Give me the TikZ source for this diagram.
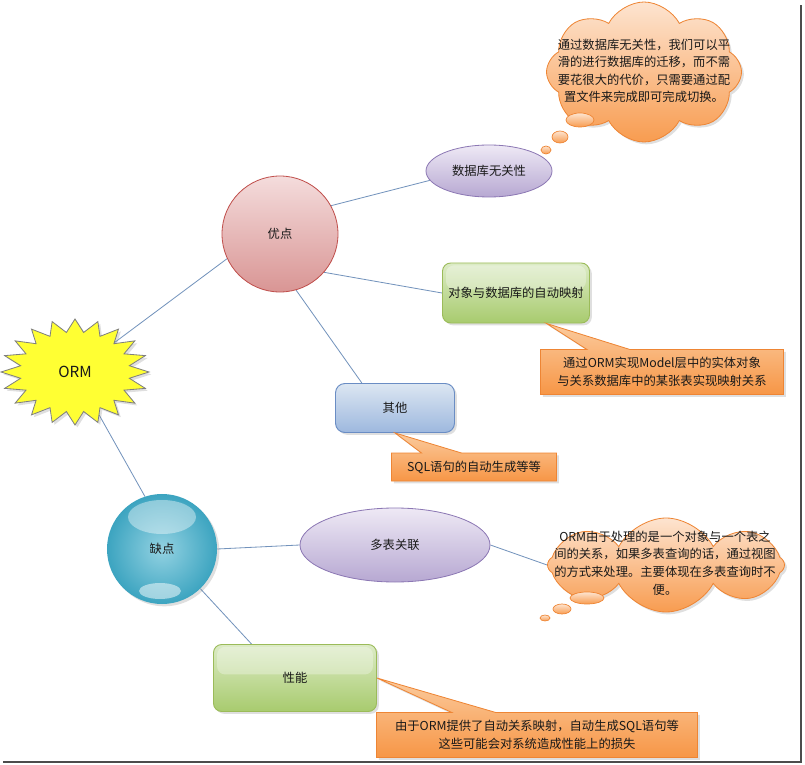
\documentclass[tikz,border=0pt]{standalone}
\usepackage{fontspec}
\setmainfont{Noto Sans CJK SC}
\usepackage{tikz}
\usetikzlibrary{shapes.geometric,shapes.symbols,shapes.callouts,shadows,backgrounds}

\definecolor{linkblue}{HTML}{7393BC}
\definecolor{startop}{HTML}{FFFF33}
\definecolor{starline}{HTML}{7F7F7F}
\definecolor{goodtop}{HTML}{F4DCDC}
\definecolor{goodbot}{HTML}{D99594}
\definecolor{goodline}{HTML}{C0504D}
\definecolor{violettop}{HTML}{EEE9F5}
\definecolor{violetbot}{HTML}{B7A8D2}
\definecolor{violetline}{HTML}{8C78B4}
\definecolor{greentop}{HTML}{DCEBC6}
\definecolor{greenbot}{HTML}{A8CB6E}
\definecolor{greenline}{HTML}{9BBB59}
\definecolor{bluetop}{HTML}{DCE6F2}
\definecolor{bluebot}{HTML}{9DB8DE}
\definecolor{blueline}{HTML}{6A8DC4}
\definecolor{notetop}{HTML}{FBCB9E}
\definecolor{notebot}{HTML}{F79646}
\definecolor{noteline}{HTML}{EE8534}
\definecolor{cloudtop}{HTML}{FDE4D0}
\definecolor{cloudbot}{HTML}{F89C50}
\definecolor{tealin}{HTML}{93D2E2}
\definecolor{tealout}{HTML}{3CA4C0}

\begin{document}
\begin{tikzpicture}[x=0.03cm,y=-0.03cm]
\tikzstyle{every node}+=[font=\fontsize{10.5pt}{15pt}\selectfont, text=black!90, inner sep=0pt]
\tikzstyle{link}=[draw=linkblue, line width=0.7pt]
\tikzstyle{softshadow}=[drop shadow={opacity=0.25, shadow xshift=2pt, shadow yshift=-2pt}]
\tikzstyle{starburst}=[draw=starline, fill=startop, line width=0.7pt, softshadow]
\tikzstyle{goodball}=[circle, draw=goodline, line width=0.7pt, top color=goodtop, bottom color=goodbot, minimum size=3.48cm]
\tikzstyle{badball}=[circle, shading=radial, inner color=tealin, outer color=tealout, minimum size=3.3cm, softshadow]
\tikzstyle{violetoval}=[ellipse, draw=violetline, line width=0.7pt, top color=violettop, bottom color=violetbot]
\tikzstyle{greenbox}=[rectangle, rounded corners=7pt, draw=greenline, line width=0.8pt, top color=greentop, bottom color=greenbot, softshadow,
  path picture={\fill[white, opacity=0.3] ([xshift=3pt,yshift=-2pt]path picture bounding box.north west) rectangle ([xshift=-3pt,yshift=3pt]path picture bounding box.east);}]
\tikzstyle{bluebox}=[rectangle, rounded corners=8pt, draw=blueline, line width=0.8pt, top color=bluetop, bottom color=bluebot, softshadow]
\tikzstyle{note}=[rectangle callout, draw=noteline, line width=0.7pt, top color=notetop, bottom color=notebot, align=center, softshadow]
\tikzstyle{thought}=[cloud, cloud puffs=8, cloud puff arc=125, draw=noteline, line width=0.7pt, top color=cloudtop, bottom color=cloudbot, softshadow]
\tikzstyle{bubble}=[draw=noteline, line width=0.6pt, top color=cloudtop, bottom color=cloudbot]

\useasboundingbox (0,0) rectangle (805,765);

% ORM
\draw[starburst] plot[samples at={0,...,39}, variable=\k]
  ({75+(74-19*mod(\k,2))*cos(9*\k)}, {372-(53-13*mod(\k,2))*sin(9*\k)}) -- cycle;
\node[ellipse, minimum width=3.3cm, minimum height=2.4cm] (orm) at (75,372) {\fontsize{13pt}{15pt}\selectfont ORM};

% advantages
\node[goodball] (good) at (280,234) {优点};
\node[violetoval, minimum width=3.78cm, minimum height=1.56cm] (dbfree) at (489,171) {数据库无关性};
\node[greenbox, minimum width=4.41cm, minimum height=1.8cm] (mapping) at (516,293) {对象与数据库的自动映射};
\node[bluebox, minimum width=3.57cm, minimum height=1.47cm] (other) at (395,408) {其他};

% disadvantages
\node[badball] (bad) at (162,549) {缺点};
\fill[white, opacity=0.4] (162,517) ellipse [x radius=34, y radius=17];
\fill[white, opacity=0.5] (160,591) ellipse [x radius=21, y radius=8];
\node[violetoval, minimum width=5.7cm, minimum height=2.22cm] (multi) at (395,545) {多表关联};
\node[greenbox, minimum width=4.89cm, minimum height=2.01cm] (perf) at (295,678) {性能};

% callouts
\node[note, minimum width=7.29cm, minimum height=1.35cm, callout pointer width=1.29cm,
  callout absolute pointer={(mapping.-45)}] (mapnote) at (662,372)
  {通过ORM实现Model层中的实体对象\\与关系数据库中的某张表实现映射关系};
\node[note, minimum width=4.95cm, minimum height=0.84cm, callout pointer width=1.2cm,
  callout absolute pointer={(other.south)}] (othernote) at (474,467) {SQL语句的自动生成等等};
\node[note, minimum width=9.63cm, minimum height=1.35cm, callout pointer width=1.32cm,
  callout absolute pointer={(perf.east)}] (perfnote) at (537,735)
  {由于ORM提供了自动关系映射，自动生成SQL语句等\\这些可能会对系统造成性能上的损失};

% clouds
\node[thought, minimum width=5.85cm, minimum height=4.2cm] (cloudA) at (644,72) {};
\node[align=center] (cloudAtext) at (644,71)
  {通过数据库无关性，我们可以平\\滑的进行数据库的迁移，而不需\\要花很大的代价，只需要通过配\\置文件来完成即可完成切换。};
\draw[bubble] (580,120) ellipse [x radius=14, y radius=7];
\draw[bubble] (560,137) ellipse [x radius=8, y radius=6];
\draw[bubble] (546,150) ellipse [x radius=5, y radius=4];

\node[thought, minimum width=7.11cm, minimum height=2.82cm] (cloudB) at (666,565) {};
\node[align=center] (cloudBtext) at (665,563)
  {ORM由于处理的是一个对象与一个表之\\间的关系，如果多表查询的话，通过视图\\的方式来处理。主要体现在多表查询时不\\便。};
\draw[bubble] (587,598) ellipse [x radius=17, y radius=6];
\draw[bubble] (562,609) ellipse [x radius=9, y radius=5];
\draw[bubble] (545,618) ellipse [x radius=5, y radius=3];

% links
\begin{pgfonlayer}{background}
\draw[link] (orm) -- (good.205);
\draw[link] (orm) -- (bad.108);
\draw[link] (good.29) -- (dbfree.189);
\draw[link] (good.-41) -- (mapping.west);
\draw[link] (good.-74) -- (other.143);
\draw[link] (bad.east) -- (multi.west);
\draw[link] (bad.-46) -- (perf.142);
\draw[link] (multi.east) -- (cloudB.west);
\end{pgfonlayer}

% frame
\draw[black!70, line width=2.5pt] (3,762) -- (801,762) -- (801,5);
\end{tikzpicture}
\end{document}
